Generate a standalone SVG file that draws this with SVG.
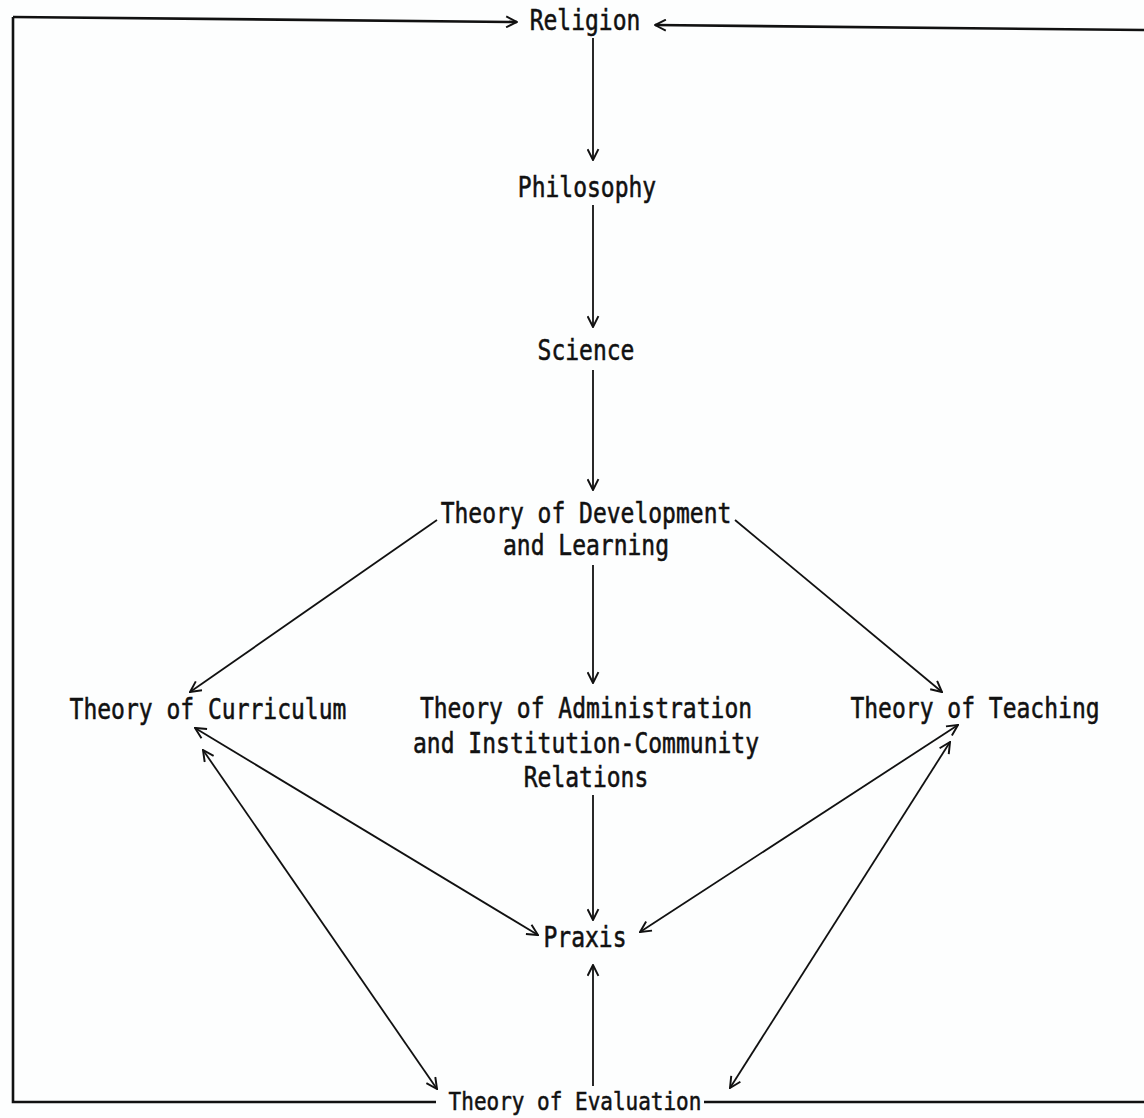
<svg xmlns="http://www.w3.org/2000/svg" width="1144" height="1118" viewBox="0 0 1144 1118">
<style>
text{font-family:"DejaVu Sans Mono","Liberation Mono",monospace;font-size:23px;fill:#111;stroke:#111;stroke-width:0.45;text-anchor:middle}
.c{stroke:#111;stroke-width:1.8;fill:none}
.b{stroke:#111;stroke-width:2.6;fill:none}
</style>
<defs>
<marker id="a" viewBox="0 0 12 12" refX="11" refY="6" markerWidth="13" markerHeight="13" markerUnits="userSpaceOnUse" orient="auto-start-reverse">
<path d="M1,1 L11,6 L1,11" stroke="#111" stroke-width="1.8" fill="none"/>
</marker>
</defs>
<rect width="1144" height="1118" fill="#fdfefe"/>
<g id="connectors">
<path class="b" d="M13,17 L517,22" marker-end="url(#a)"/>
<path class="b" d="M13,17 L13,1102 L436,1102"/>
<path class="b" d="M1144,30 L655,25" marker-end="url(#a)"/>
<path class="b" d="M704,1102 L1144,1102"/>
<path class="c" d="M593,38 L593,160" marker-end="url(#a)"/>
<path class="c" d="M593,205 L593,327" marker-end="url(#a)"/>
<path class="c" d="M593,370 L593,490" marker-end="url(#a)"/>
<path class="c" d="M437,520 L190,692" marker-end="url(#a)"/>
<path class="c" d="M735,520 L942,692" marker-end="url(#a)"/>
<path class="c" d="M593,565 L593,683" marker-end="url(#a)"/>
<path class="c" d="M593,795 L593,920" marker-end="url(#a)"/>
<path class="c" d="M593,1086 L593,965" marker-end="url(#a)"/>
<path class="c" d="M195,728 L538,935" marker-start="url(#a)" marker-end="url(#a)"/>
<path class="c" d="M203,750 L437,1089" marker-start="url(#a)" marker-end="url(#a)"/>
<path class="c" d="M958,725 L640,932" marker-start="url(#a)" marker-end="url(#a)"/>
<path class="c" d="M950,742 L730,1088" marker-start="url(#a)" marker-end="url(#a)"/>
</g>
<g id="religion"><text x="585" y="25" transform="scale(1,1.2)">Religion</text></g>
<g id="philosophy"><text x="587" y="164" transform="scale(1,1.2)">Philosophy</text></g>
<g id="science"><text x="586" y="300" transform="scale(1,1.2)">Science</text></g>
<g id="development"><text x="586" y="436" transform="scale(1,1.2)">Theory of Development</text><text x="586" y="462.5" transform="scale(1,1.2)">and Learning</text></g>
<g id="curriculum"><text x="208" y="599" transform="scale(1,1.2)">Theory of Curriculum</text></g>
<g id="administration"><text x="586" y="598.5" transform="scale(1,1.2)">Theory of Administration</text><text x="586" y="627.5" transform="scale(1,1.2)">and Institution-Community</text><text x="586" y="656" transform="scale(1,1.2)">Relations</text></g>
<g id="teaching"><text x="975" y="598" transform="scale(1,1.2)">Theory of Teaching</text></g>
<g id="praxis"><text x="585" y="789" transform="scale(1,1.2)">Praxis</text></g>
<g id="evaluation"><text x="575" y="925" transform="scale(1,1.2)" style="font-size:21px">Theory of Evaluation</text></g>
</svg>
